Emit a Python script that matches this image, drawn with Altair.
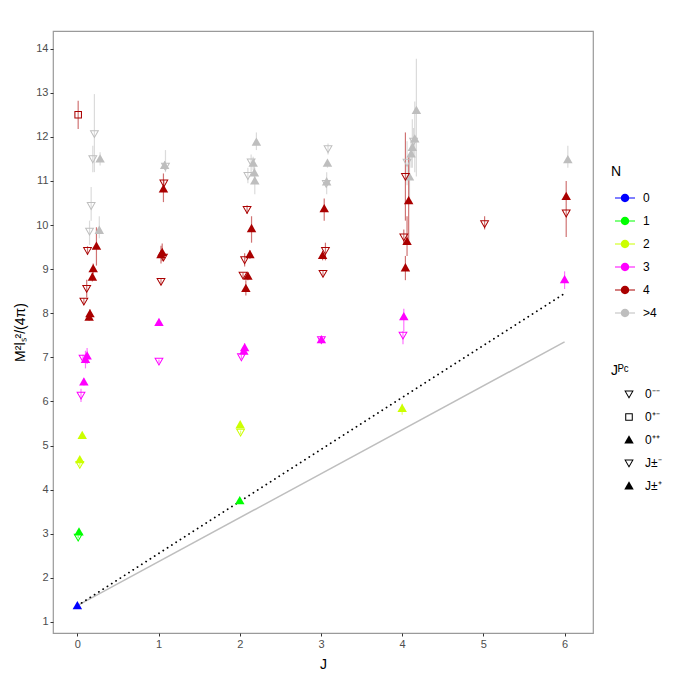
import altair as alt
import pandas as pd

# ---- data ----
J = [0.00, 0.02, 0.01, 0.03, 0.03, 0.06, 0.045, 0.08, 0.12, 0.10, 0.07, 0.155, 0.145, 0.08,
     0.115, 0.185, 0.195, 0.125, 0.235, 0.15, 0.27, 0.17, 0.19, 0.28, 0.21, 0.01,
     1.085, 1.075, 1.065, 1.06, 1.03, 1.045, 1.06, 1.03, 1.005, 1.005,
     2.205, 2.14, 2.165, 2.10, 2.18, 2.185, 2.09, 2.145, 2.125, 2.06, 2.04, 2.10, 2.075,
     2.06, 2.05, 2.02, 2.005, 2.01, 2.00,
     3.087, 3.08, 3.065, 3.07, 3.04, 3.055, 3.02, 3.025, 3.005, 3.005,
     4.175, 4.155, 4.14, 4.125, 4.11, 4.06, 4.09, 4.04, 4.08, 4.02, 4.06, 4.04, 4.02, 4.01, 4.00,
     5.015,
     6.04, 6.02, 6.02, 6.00]
M2 = [1.37, 3.04, 2.92, 4.68, 4.57, 5.23, 6.14, 6.44, 7.03, 6.95, 6.98, 7.99, 7.91, 8.27,
      8.56, 8.82, 9.01, 9.42, 9.52, 9.86, 9.88, 10.44, 11.50, 11.50, 12.07, 12.50,
      11.33, 11.35, 10.95, 10.82, 9.33, 9.38, 9.27, 8.72, 7.79, 6.91,
      11.88, 11.43, 11.40, 11.12, 11.18, 11.00, 10.35, 9.92, 9.33, 9.21, 8.86, 8.84, 8.56,
      7.22, 7.14, 7.01, 5.47, 5.30, 3.75,
      11.73, 11.40, 10.94, 10.98, 10.37, 9.42, 9.31, 8.90, 7.40, 7.40,
      12.60, 11.95, 11.90, 11.76, 11.61, 11.42, 11.09, 11.10, 10.55, 9.73, 9.63, 9.03, 7.92, 7.50, 5.84,
      10.03,
      11.48, 10.65, 10.27, 8.76]
LO = [1.37, 3.00, 2.90, 4.64, 4.53, 5.20, 5.99, 6.36, 6.85, 6.75, 6.90, 7.89, 7.83, 8.20,
      8.36, 8.72, 8.89, 9.32, 9.08, 9.55, 9.70, 10.10, 11.20, 11.35, 11.20, 12.18,
      11.20, 11.25, 10.88, 10.52, 9.13, 9.18, 9.20, 8.65, 7.75, 6.87,
      11.70, 11.20, 11.25, 10.95, 11.00, 10.70, 10.25, 9.60, 9.23, 9.06, 8.80, 8.75, 8.40,
      7.12, 7.05, 6.96, 5.42, 5.26, 3.72,
      11.60, 11.30, 10.85, 10.70, 10.10, 9.20, 9.20, 8.84, 7.32, 7.32,
      11.10, 11.20, 11.60, 11.30, 11.30, 10.90, 10.60, 10.10, 9.65, 9.55, 9.30, 8.75, 7.60, 7.30, 5.70,
      9.90,
      11.30, 10.50, 9.73, 8.55]
HI = [1.37, 3.08, 2.96, 4.72, 4.61, 5.26, 6.29, 6.52, 7.21, 7.15, 7.06, 8.09, 7.99, 8.34,
      8.76, 8.92, 9.13, 9.52, 9.95, 10.10, 10.20, 10.86, 11.80, 11.65, 12.97, 12.82,
      11.70, 11.45, 11.02, 11.17, 9.53, 9.58, 9.34, 8.79, 7.83, 6.95,
      12.10, 11.60, 11.55, 11.30, 11.35, 11.30, 10.45, 10.20, 9.43, 9.36, 8.92, 8.93, 8.75,
      7.32, 7.23, 7.06, 5.52, 5.34, 3.78,
      11.85, 11.50, 11.05, 11.20, 10.60, 9.60, 9.42, 8.96, 7.48, 7.48,
      13.77, 12.80, 12.20, 12.40, 11.90, 11.90, 11.60, 12.10, 11.54, 9.90, 10.20, 9.30, 8.10, 7.60, 5.95,
      10.20,
      11.80, 11.00, 10.50, 8.95]
N = ["0", "1", "1", "2", "2", "2", "3", "3", "3", "3", "3", "4", "4", "4",
     "4", "4", "4", "4", "4", ">4", ">4", ">4", ">4", ">4", ">4", "4",
     ">4", ">4", "4", "4", "4", "4", "4", "4", "3", "3",
     ">4", ">4", ">4", ">4", ">4", ">4", "4", "4", "4", "4", "4", "4", "4",
     "3", "3", "3", "2", "2", "1",
     ">4", ">4", ">4", ">4", "4", "4", "4", "4", "3", "3",
     ">4", ">4", ">4", ">4", ">4", ">4", ">4", "4", "4", "4", "4", "4", "3", "3", "2",
     "4",
     ">4", "4", "4", "3"]
JPC = ["0⁺⁺", "0⁺⁺", "0⁻⁻", "0⁺⁺", "0⁻⁻", "0⁺⁺", "0⁻⁻", "0⁺⁺", "0⁺⁺", "0⁺⁺", "0⁻⁻", "0⁺⁺", "0⁺⁺", "0⁻⁻",
       "0⁻⁻", "0⁺⁺", "0⁺⁺", "0⁻⁻", "0⁺⁺", "0⁻⁻", "0⁺⁺", "0⁻⁻", "0⁻⁻", "0⁺⁺", "0⁻⁻", "0⁺⁻",
       "J±⁻", "J±⁺", "J±⁻", "J±⁺", "J±⁺", "J±⁺", "J±⁻", "J±⁻", "J±⁺", "J±⁻",
       "J±⁺", "J±⁻", "J±⁺", "J±⁻", "J±⁺", "J±⁺", "J±⁻", "J±⁺", "J±⁺", "J±⁻", "J±⁻", "J±⁺", "J±⁺",
       "J±⁺", "J±⁺", "J±⁻", "J±⁺", "J±⁻", "J±⁺",
       "J±⁻", "J±⁺", "J±⁻", "J±⁺", "J±⁺", "J±⁻", "J±⁺", "J±⁻", "J±⁺", "J±⁻",
       "J±⁺", "J±⁺", "J±⁻", "J±⁺", "J±⁺", "J±⁻", "J±⁺", "J±⁻", "J±⁺", "J±⁻", "J±⁺", "J±⁺", "J±⁺", "J±⁻", "J±⁺",
       "J±⁻",
       "J±⁺", "J±⁺", "J±⁻", "J±⁺"]

N_levels = ["0", "1", "2", "3", "4", ">4"]
N_colors = ["#0000FF", "#00FF00", "#CCFF00", "#FF00FF", "#AA0000", "#BEBEBE"]
JPC_levels = ["0⁻⁻", "0⁺⁻", "0⁺⁺", "J±⁻", "J±⁺"]

line_J = [0, 6]
dotted_M2 = [1.37, 8.45]
solid_M2 = [1.37, 7.35]

# symbol outlines (unit box -1..1); open shapes are rings so they can be filled
TRI_DOWN_OPEN = ("M-1,-0.75L1,-0.75L0,1Z"
                 "M-0.64,-0.54L0,0.58L0.64,-0.54Z")
SQUARE_OPEN = ("M-0.8,-0.8L0.8,-0.8L0.8,0.8L-0.8,0.8Z"
               "M-0.58,-0.58L-0.58,0.58L0.58,0.58L0.58,-0.58Z")
TRI_UP = "M-1,0.75L1,0.75L0,-1Z"
JPC_shapes = [TRI_DOWN_OPEN, SQUARE_OPEN, TRI_UP, TRI_DOWN_OPEN, TRI_UP]
KEY_N = ("M-1,-0.06L1,-0.06L1,0.06L-1,0.06Z"
         "M0.42,0A0.42,0.42 0 1,1 -0.42,0A0.42,0.42 0 1,1 0.42,0Z")

df = pd.DataFrame({"J": J, "M2": M2, "lo": LO, "hi": HI, "N": N, "JPC": JPC})
lines = pd.DataFrame({"J": line_J, "dotted": dotted_M2, "solid": solid_M2})

xscale = alt.Scale(domain=[-0.3, 6.35], nice=False, zero=False)
yscale = alt.Scale(domain=[0.75, 14.4], nice=False, zero=False)
cscale = alt.Scale(domain=N_levels, range=N_colors)

X = alt.X("J:Q", scale=xscale, title="J",
          axis=alt.Axis(values=list(range(0, 7)), format="d"))
Y = alt.Y("M2:Q", scale=yscale, title="M²lₛ²/(4π)",
          axis=alt.Axis(values=list(range(1, 15)), format="d"))

def n_legend():
    return alt.Legend(title="N", orient="none", legendX=558, legendY=134,
                      symbolType=KEY_N, symbolSize=400, symbolOffset=4, symbolOpacity=1,
                      symbolStrokeWidth=0, rowPadding=7, labelOffset=8, titlePadding=9)

solid = alt.Chart(lines).mark_line(color="#BEBEBE", strokeWidth=1.5).encode(
    x=alt.X("J:Q", scale=xscale), y=alt.Y("solid:Q", scale=yscale))
dotted = alt.Chart(lines).mark_line(color="black", strokeWidth=1.8, strokeDash=[0.1, 5],
                                    strokeCap="round").encode(
    x=alt.X("J:Q", scale=xscale), y=alt.Y("dotted:Q", scale=yscale))

errs = alt.Chart(df).mark_rule(strokeWidth=1.2, strokeOpacity=0.55).encode(
    x=X, y=alt.Y("lo:Q", scale=yscale), y2="hi:Q",
    stroke=alt.Stroke("N:N", scale=cscale, legend=n_legend()))

pts = alt.Chart(df).mark_point(filled=True, size=90, strokeWidth=0, opacity=1).encode(
    x=X, y=Y,
    fill=alt.Fill("N:N", scale=cscale, legend=n_legend()),
    shape=alt.Shape("JPC:N", scale=alt.Scale(domain=JPC_levels, range=JPC_shapes),
                    legend=alt.Legend(title="Jᴾᶜ", orient="none", legendX=558, legendY=333,
                                      symbolSize=90, symbolOffset=12, symbolFillColor="black",
                                      symbolStrokeWidth=0, rowPadding=11, labelOffset=10,
                                      titlePadding=10)),
)

chart = alt.layer(solid, dotted, errs, pts).properties(
    width=540, height=602,
    padding={"left": 5, "top": 23, "right": 5, "bottom": 5},
).configure_view(stroke="#9a9a9a", strokeWidth=1.2).configure_axis(
    grid=False, domain=False, tickColor="#333333", tickSize=3, labelColor="#4d4d4d",
    labelFontSize=11, titleFontSize=14, titleFontWeight="normal", titleColor="black",
    labelFont="Liberation Sans", titleFont="Liberation Sans", labelPadding=2, titlePadding=8,
).configure_legend(
    titleFontSize=14, titleFontWeight="normal", titleColor="black", labelFontSize=12,
    labelColor="black", titleFont="Liberation Sans", labelFont="Liberation Sans",
    symbolBaseFillColor="black", symbolBaseStrokeColor="black", padding=0,
)

chart.save("out.html", embed_options={"renderer": "svg", "actions": False})
